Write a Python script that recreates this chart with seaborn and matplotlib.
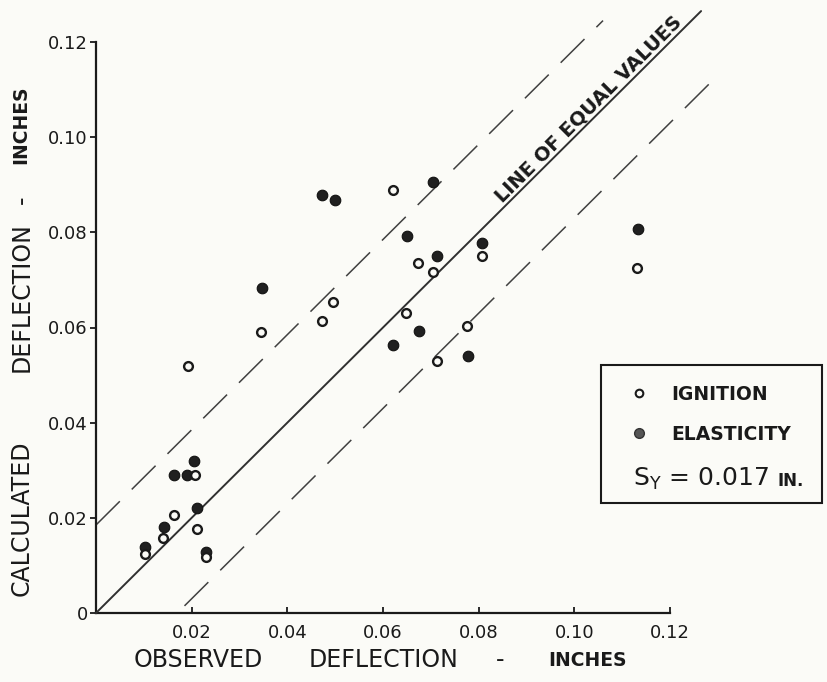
import matplotlib
matplotlib.use("Agg")
import matplotlib.pyplot as plt
import matplotlib.transforms as mtransforms
from matplotlib.lines import Line2D
from matplotlib.patches import Rectangle
import seaborn as sns
import numpy as np
import pandas as pd

# ---------------- data ----------------
ignition_observed = [0.0103, 0.0140, 0.0164, 0.0208, 0.0211, 0.0231, 0.0192, 0.0344, 0.0473,
                     0.0496, 0.0621, 0.0649, 0.0674, 0.0705, 0.0713, 0.0776, 0.0806, 0.1132]
ignition_calculated = [0.0125, 0.0158, 0.0206, 0.0289, 0.0177, 0.0118, 0.0520, 0.0591, 0.0613,
                       0.0653, 0.0889, 0.0631, 0.0736, 0.0716, 0.0529, 0.0603, 0.0751, 0.0725]
elasticity_observed = [0.0103, 0.0142, 0.0164, 0.0191, 0.0205, 0.0211, 0.0231, 0.0347, 0.0473,
                       0.0499, 0.0621, 0.0651, 0.0675, 0.0704, 0.0713, 0.0778, 0.0806, 0.1133]
elasticity_calculated = [0.0139, 0.0181, 0.0289, 0.0289, 0.0320, 0.0220, 0.0129, 0.0683, 0.0878,
                         0.0867, 0.0563, 0.0793, 0.0593, 0.0905, 0.0751, 0.0540, 0.0777, 0.0806]

x_ticks = [0.02, 0.04, 0.06, 0.08, 0.10, 0.12]
x_tick_labels = ["0.02", "0.04", "0.06", "0.08", "0.10", "0.12"]
y_ticks = [0.0, 0.02, 0.04, 0.06, 0.08, 0.10, 0.12]
y_tick_labels = ["0", "0.02", "0.04", "0.06", "0.08", "0.10", "0.12"]

series_names = ["IGNITION", "ELASTICITY"]
std_error = 0.017
std_error_text = "0.017"
line_label = "LINE OF EQUAL VALUES"

# ---------------- style ----------------
sns.set_theme(style="white")
plt.rcParams["font.family"] = ["DejaVu Sans"]

bg = "#fbfbf7"
ink = "#1a1a1a"
W, H = 828, 682


def fx(px):
    return px / W


def fy(py):
    return 1 - py / H


fig = plt.figure(figsize=(W / 100, H / 100), dpi=100, facecolor=bg)
ax = fig.add_axes([fx(96), fy(613), 574 / W, 571 / H])
ax.set_facecolor(bg)

df_ign = pd.DataFrame({"observed": ignition_observed, "calculated": ignition_calculated})
df_ela = pd.DataFrame({"observed": elasticity_observed, "calculated": elasticity_calculated})

sns.scatterplot(data=df_ela, x="observed", y="calculated", ax=ax, marker="o", s=58,
                color="#202020", edgecolor="#111111", linewidth=0.8, zorder=4, legend=False)
sns.scatterplot(data=df_ign, x="observed", y="calculated", ax=ax, marker="o", s=40,
                color=bg, edgecolor=ink, linewidth=1.7, zorder=5, legend=False)

# line of equal values and +/- standard error band
eq = np.array([0.0, 0.1265])
ax.plot(eq, eq, color="#303030", lw=1.4, zorder=3, clip_on=False)
up = np.array([0.0, 0.106])
ax.plot(up, up + 0.0185, color="#404040", lw=1.1, dashes=(22, 11), zorder=2, clip_on=False)
lo = np.array([0.0185, 0.130])
ax.plot(lo, lo - std_error, color="#404040", lw=1.1, dashes=(22, 11), zorder=2, clip_on=False)

# label along the line
off = mtransforms.offset_copy(ax.transData, fig=fig, x=-3, y=3, units="dots")
ax.text(0.1045, 0.1045, line_label, transform=off, rotation=45, rotation_mode="anchor",
        ha="center", va="baseline", fontsize=14, fontweight="bold", color=ink,
        clip_on=False, zorder=6)

ax.set_xlim(0, 0.12)
ax.set_ylim(0, 0.12)
ax.set_xticks(x_ticks, x_tick_labels)
ax.set_yticks(y_ticks, y_tick_labels)
ax.set_xlabel("")
ax.set_ylabel("")
for s in ["top", "right"]:
    ax.spines[s].set_visible(False)
for s in ["left", "bottom"]:
    ax.spines[s].set_color(ink)
    ax.spines[s].set_linewidth(1.6)
ax.tick_params(axis="x", direction="in", length=4, width=1.3, pad=8, labelsize=13,
               colors=ink, bottom=True)
ax.tick_params(axis="y", direction="out", length=4, width=1.3, pad=2, labelsize=13,
               colors=ink, left=True)

# axis titles
title_kw = dict(color=ink, fontsize=17)
fig.text(fx(198), fy(660), "OBSERVED", ha="center", va="center", **title_kw)
fig.text(fx(384), fy(660), "DEFLECTION", ha="center", va="center", **title_kw)
fig.text(fx(500), fy(660), "-", ha="center", va="center", **title_kw)
fig.text(fx(587), fy(661), "INCHES", ha="center", va="center", color=ink, fontsize=13.5,
         fontweight="bold")

fig.text(fx(22), fy(518), "CALCULATED", ha="center", va="center", rotation=90, **title_kw)
fig.text(fx(22), fy(297), "DEFLECTION", ha="center", va="center", rotation=90, **title_kw)
fig.text(fx(22), fy(200), "-", ha="center", va="center", rotation=90, **title_kw)
fig.text(fx(21), fy(125), "INCHES", ha="center", va="center", rotation=90, color=ink,
         fontsize=13.5, fontweight="bold")

# legend box
fig.add_artist(Rectangle((fx(601), fy(503)), (822 - 601) / W, (503 - 365) / H,
                         transform=fig.transFigure, fill=False, edgecolor=ink, lw=1.5))
fig.add_artist(Line2D([fx(639)], [fy(393)], transform=fig.transFigure, marker="o",
                      markersize=5.5, markerfacecolor=bg, markeredgecolor=ink,
                      markeredgewidth=1.5, linestyle="none"))
fig.add_artist(Line2D([fx(639)], [fy(433)], transform=fig.transFigure, marker="o",
                      markersize=7, markerfacecolor="#555555", markeredgecolor="#333333",
                      markeredgewidth=1.0, linestyle="none"))
fig.text(fx(671), fy(394), series_names[0], ha="left", va="center", fontsize=13.5,
         fontweight="bold", color=ink)
fig.text(fx(671), fy(434), series_names[1], ha="left", va="center", fontsize=13.5,
         fontweight="bold", color=ink)
fig.text(fx(633), fy(486), r"S$_{\mathregular{Y}}$ = " + std_error_text, ha="left",
         va="baseline", fontsize=18, color=ink)
fig.text(fx(778), fy(486), "IN.", ha="left", va="baseline", fontsize=12, fontweight="bold",
         color=ink)

fig.savefig("out.png", dpi=100, facecolor=bg)
